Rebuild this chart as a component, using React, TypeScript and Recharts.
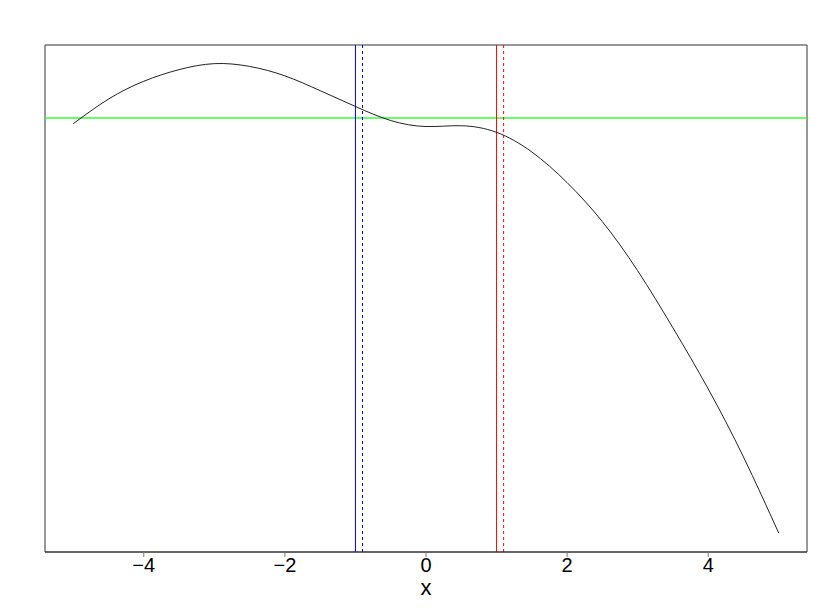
import React from "react";
import {
  LineChart,
  Line,
  XAxis,
  YAxis,
  ReferenceLine,
  ReferenceArea,
} from "recharts";

// values at x = -5 .. 5, step 0.5
const xValues = [
  -5, -4.5, -4, -3.5, -3, -2.5, -2, -1.5, -1, -0.5, 0, 0.5, 1, 1.5, 2, 2.5, 3,
  3.5, 4, 4.5, 5,
];
const yValues = [
  0.14, 1.37, 2.26, 2.84, 3.14, 3.0, 2.53, 1.79, 1.0, 0.3, 0.0, 0.04, -0.29,
  -1.27, -2.8, -4.75, -7.2, -10.05, -13.1, -16.5, -20.3,
];
const xTicks = [-4, -2, 0, 2, 4];
const xDomain: [number, number] = [-5.4, 5.4];
const yDomain: [number, number] = [-21.24, 4.07];

// reference lines
const blueSolid = -1;
const blueDashed = -0.9;
const redSolid = 1;
const redDashed = 1.1;
const greenLevel = 0.42;

const data = xValues.map((x, i) => ({ x, y: yValues[i] }));

const fmt = (v: number) => String(v).replace("-", "\u2212");

export default function App() {
  return (
    <div style={{ position: "absolute", left: 0, top: 0, background: "#fff" }}>
      <LineChart
        width={830}
        height={609}
        data={data}
        margin={{ top: 45, right: 23, bottom: 12, left: 45 }}
      >
        <XAxis
          dataKey="x"
          type="number"
          domain={xDomain}
          ticks={xTicks}
          allowDataOverflow
          height={45}
          tickSize={5}
          tickMargin={1}
          tickFormatter={fmt}
          tick={{ fontSize: 20, fill: "#000", fontFamily: "Liberation Sans, Arial, sans-serif" }}
          axisLine={{ stroke: "#333" }}
          tickLine={{ stroke: "#777" }}
          label={{
            value: "x",
            position: "insideBottom",
            offset: 2,
            fontSize: 22,
            fill: "#000",
            fontFamily: "Liberation Sans, Arial, sans-serif",
          }}
        />
        <YAxis type="number" domain={yDomain} allowDataOverflow hide />
        <ReferenceArea
          x1={xDomain[0]}
          x2={xDomain[1]}
          y1={yDomain[0]}
          y2={yDomain[1]}
          fill="none"
          stroke="#333"
          strokeWidth={1}
        />
        <ReferenceLine y={greenLevel} stroke="#33ff33" strokeWidth={1.5} />
        <ReferenceLine x={blueSolid} stroke="#0000ff" />
        <ReferenceLine x={blueDashed} stroke="#0000ff" strokeDasharray="3 3" />
        <ReferenceLine x={redSolid} stroke="#ff0000" />
        <ReferenceLine x={redDashed} stroke="#ff0000" strokeDasharray="3 3" />
        <Line
          type="natural"
          dataKey="y"
          stroke="#222"
          strokeWidth={1}
          dot={false}
          isAnimationActive={false}
        />
      </LineChart>
    </div>
  );
}
